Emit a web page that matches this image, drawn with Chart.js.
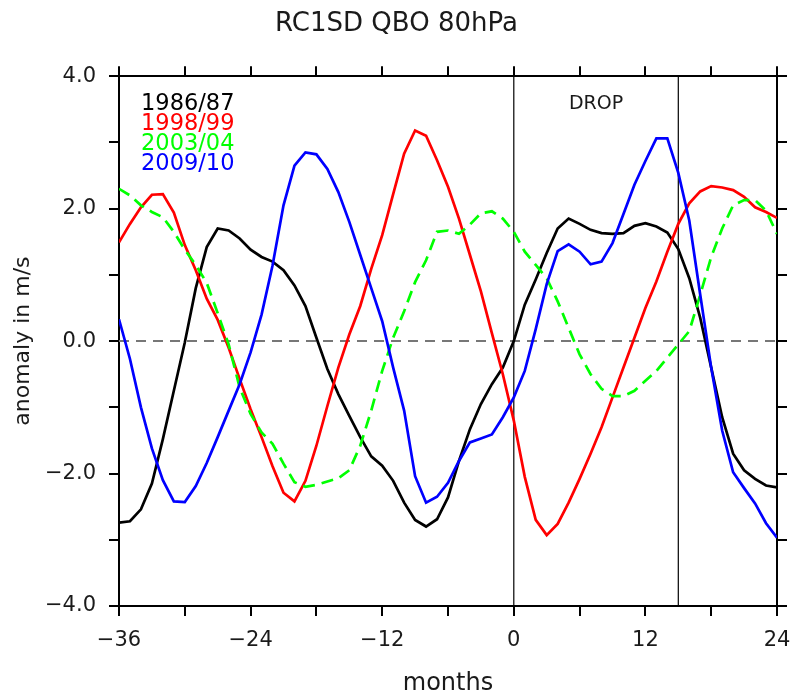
<!DOCTYPE html>
<html>
<head>
<meta charset="utf-8">
<script src="https://cdn.jsdelivr.net/npm/chart.js@4"></script>
<style>
  body { margin: 0; background: #fff; }
  #wrap { width: 793px; height: 700px; }
</style>
</head>
<body>
<div id="wrap"><canvas id="qbo"></canvas></div>
<script>
// months relative to the drop
const months = [-36, -35, -34, -33, -32, -31, -30, -29, -28, -27, -26, -25, -24, -23, -22, -21,
  -20, -19, -18, -17, -16, -15, -14, -13, -12, -11, -10, -9, -8, -7, -6, -5, -4, -3, -2, -1,
  0, 1, 2, 3, 4, 5, 6, 7, 8, 9, 10, 11, 12, 13, 14, 15, 16, 17, 18, 19, 20, 21, 22, 23, 24];

// anomaly in m/s, one value per month
const y1986 = [-2.74, -2.72, -2.54, -2.15, -1.48, -0.75, -0.02, 0.8, 1.42, 1.7, 1.67, 1.55, 1.38, 1.27, 1.2, 1.07,
  0.84, 0.53, 0.05, -0.42, -0.8, -1.13, -1.45, -1.74, -1.88, -2.11, -2.44, -2.7, -2.8, -2.69, -2.36, -1.81, -1.33, -0.95, -0.65, -0.4,
  0.0, 0.55, 0.93, 1.33, 1.7, 1.85, 1.77, 1.68, 1.63, 1.62, 1.63, 1.74, 1.78, 1.73, 1.64, 1.39, 0.95, 0.35, -0.4, -1.15, -1.7, -1.95, -2.08, -2.18, -2.21];
const y1998 = [1.49, 1.77, 2.02, 2.21, 2.22, 1.94, 1.45, 1.07, 0.64, 0.32, -0.1, -0.57, -1.03, -1.45, -1.89, -2.29,
  -2.42, -2.11, -1.58, -0.98, -0.4, 0.1, 0.53, 1.09, 1.6, 2.22, 2.83, 3.18, 3.1, 2.73, 2.33, 1.85, 1.3, 0.75, 0.12, -0.5,
  -1.2, -2.05, -2.7, -2.93, -2.76, -2.44, -2.08, -1.7, -1.3, -0.85, -0.4, 0.05, 0.5, 0.9, 1.35, 1.77, 2.08, 2.26, 2.34, 2.32, 2.28, 2.18, 2.02, 1.95, 1.86];
const y2003 = [2.3, 2.2, 2.05, 1.95, 1.87, 1.65, 1.38, 1.15, 0.88, 0.42, -0.05, -0.7, -1.1, -1.38, -1.55, -1.85,
  -2.13, -2.2, -2.17, -2.12, -2.07, -1.95, -1.58, -1.05, -0.45, 0.05, 0.45, 0.89, 1.22, 1.65, 1.67, 1.62, 1.76, 1.93, 1.96, 1.85,
  1.65, 1.35, 1.15, 0.95, 0.6, 0.2, -0.2, -0.5, -0.72, -0.83, -0.83, -0.75, -0.6, -0.45, -0.25, -0.05, 0.15, 0.7, 1.27, 1.7, 2.05, 2.13, 2.13, 1.97, 1.62];
const y2009 = [0.33, -0.27, -1.0, -1.62, -2.1, -2.42, -2.43, -2.19, -1.84, -1.45, -1.05, -0.65, -0.17, 0.4, 1.14, 2.05,
  2.65, 2.85, 2.82, 2.6, 2.25, 1.8, 1.3, 0.8, 0.3, -0.4, -1.05, -2.04, -2.44, -2.35, -2.14, -1.81, -1.53, -1.47, -1.41, -1.15,
  -0.85, -0.45, 0.18, 0.86, 1.36, 1.46, 1.35, 1.16, 1.2, 1.48, 1.92, 2.36, 2.72, 3.06, 3.06, 2.54, 1.82, 0.7, -0.4, -1.35, -1.98, -2.22, -2.45, -2.75, -2.97];

const seriesNames = ["1986/87", "1998/99", "2003/04", "2009/10"];
const seriesColors = ["#000000", "#ff0000", "#00ff00", "#0000ff"];
const dropStart = 0;
const dropEnd = 15;
const xTickLabels = [-36, -24, -12, 0, 12, 24];
const yTickLabels = [4, 2, 0, -2, -4];

const FONT = "'DejaVu Sans', sans-serif";
const TXT = "#1a1a1a";

function pts(ys) {
  return months.map((m, i) => ({ x: m, y: ys[i] }));
}
function minus(s) {
  return s.replace("-", "\u2212");
}

const series = [y1986, y1998, y2003, y2009];
const datasets = series.map((ys, i) => ({
  label: seriesNames[i],
  data: pts(ys),
  borderColor: seriesColors[i],
  borderWidth: 2.7,
  borderDash: i === 2 ? [12, 7] : [],
  pointRadius: 0,
  tension: 0,
  order: 3 - i,
}));

// reference lines: zero line and the drop period
datasets.push({
  label: "zero",
  data: [{ x: months[0], y: 0 }, { x: months[months.length - 1], y: 0 }],
  borderColor: "#777",
  borderWidth: 2,
  borderDash: [10, 7],
  pointRadius: 0,
  order: 10,
});
[dropStart, dropEnd].forEach((m) => {
  datasets.push({
    label: "drop",
    data: [{ x: m, y: -4 }, { x: m, y: 4 }],
    borderColor: "#000",
    borderWidth: 1.2,
    pointRadius: 0,
    order: 10,
  });
});

// legend text inside the plot and the DROP label
const labelsPlugin = {
  id: "labels",
  afterDatasetsDraw(chart) {
    const { ctx, chartArea, scales } = chart;
    ctx.save();
    ctx.font = "22.5px " + FONT;
    ctx.textBaseline = "middle";
    ctx.textAlign = "left";
    seriesNames.forEach((name, i) => {
      ctx.fillStyle = seriesColors[i];
      ctx.fillText(name, chartArea.left + 22, chartArea.top + 28 + i * 20);
    });
    ctx.font = "19px " + FONT;
    ctx.fillStyle = TXT;
    ctx.textAlign = "center";
    ctx.fillText("DROP", scales.x.getPixelForValue((dropStart + dropEnd) / 2), chartArea.top + 28);
    ctx.restore();
  },
};

const axisGrid = {
  drawOnChartArea: false,
  drawTicks: true,
  tickLength: 10,
  color: "#000",
  lineWidth: 2,
};
const axisBorder = { display: true, color: "#000", width: 2 };
const noPad = (s) => { s.paddingLeft = 0; s.paddingRight = 0; };

new Chart(document.getElementById("qbo"), {
  type: "line",
  data: { datasets: datasets },
  plugins: [labelsPlugin],
  options: {
    responsive: true,
    maintainAspectRatio: false,
    animation: false,
    layout: { padding: 0 },
    plugins: {
      legend: { display: false },
      tooltip: { enabled: false },
      title: {
        display: true,
        text: "RC1SD QBO 80hPa",
        color: TXT,
        font: { family: FONT, size: 26, weight: "normal", lineHeight: 1.2 },
        padding: { top: 9, bottom: 7 },
      },
    },
    scales: {
      x: {
        type: "linear",
        position: "bottom",
        min: -36,
        max: 24,
        grid: axisGrid,
        border: axisBorder,
        ticks: {
          stepSize: 6,
          padding: 12,
          color: TXT,
          font: { family: FONT, size: 21 },
          maxRotation: 0,
          autoSkip: false,
          callback: (v) => (xTickLabels.includes(v) ? minus(String(v)) : ""),
        },
        title: {
          display: true,
          text: "months",
          color: TXT,
          font: { family: FONT, size: 24 },
          padding: { top: 0, bottom: 2 },
        },
        afterFit: (s) => { s.height = 94; noPad(s); },
      },
      x2: {
        type: "linear",
        position: "top",
        min: -36,
        max: 24,
        grid: axisGrid,
        border: axisBorder,
        ticks: { stepSize: 6, display: false },
        afterFit: (s) => { s.height = 29; noPad(s); },
      },
      y: {
        type: "linear",
        position: "left",
        min: -4,
        max: 4,
        grid: axisGrid,
        border: axisBorder,
        ticks: {
          stepSize: 1,
          padding: 13,
          color: TXT,
          font: { family: FONT, size: 21 },
          callback: (v) => (yTickLabels.includes(v) ? minus(v.toFixed(1)) : ""),
        },
        title: {
          display: true,
          text: "anomaly in m/s",
          color: TXT,
          font: { family: FONT, size: 22 },
          padding: { top: 10, bottom: 0 },
        },
        afterFit: (s) => { s.width = 119; },
      },
      y2: {
        type: "linear",
        position: "right",
        min: -4,
        max: 4,
        grid: axisGrid,
        border: axisBorder,
        ticks: { stepSize: 1, display: false },
        afterFit: (s) => { s.width = 16; },
      },
    },
  },
});
</script>
</body>
</html>
